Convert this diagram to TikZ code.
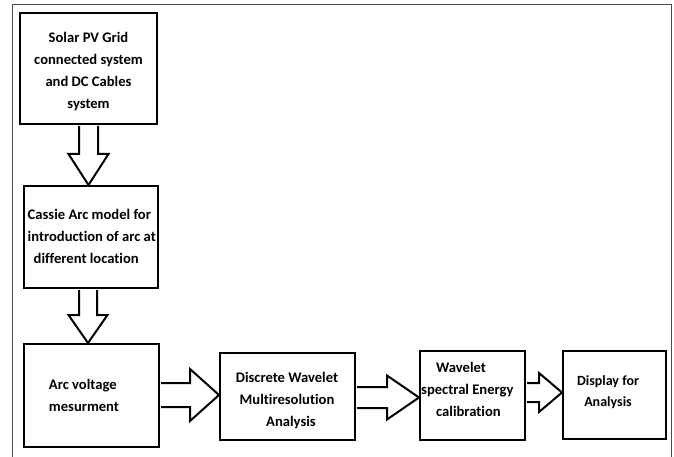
\documentclass[tikz,border=0pt]{standalone}
\usepackage{fontspec}
\setmainfont{Carlito}[Ligatures={NoCommon}]
\usetikzlibrary{calc}
\tikzset{
  box/.style={draw=black, line width=2pt, minimum width=#1, inner sep=0pt},
  txt/.style={font=\bfseries\fontsize{14.6}{22}\selectfont, inner sep=0pt, text=black},
  arr/.style={draw=black, line width=2pt, fill=white, line join=miter},
}
\begin{document}
\begin{tikzpicture}[x=1pt,y=-1pt]
\useasboundingbox (0,0) rectangle (674,457);
% frame
\draw[gray!60!black, line width=1pt] (12,457) -- (12,5) -- (671,5) -- (671,457);
% boxes
\node[box=137pt, minimum height=111pt] (b1) at (88.5,68.5) {};
\node[box=134pt, minimum height=102pt] (b2) at (91,237) {};
\node[box=135pt, minimum height=103pt] (b3) at (91.5,395.5) {};
\node[box=135pt, minimum height=87pt] (b4) at (287.5,396.5) {};
\node[box=105pt, minimum height=89pt] (b5) at (472.5,395.5) {};
\node[box=103pt, minimum height=88pt] (b6) at (614.5,395) {};
% texts
\node[txt, align=center] (t1) at (88.5,72) {Solar PV Grid\\connected system\\and DC Cables\\system};
\node[txt, align=left, anchor=west] (t2) at (27.5,236) {Cassie Arc model for\\introduction of arc at\\\hspace*{6pt}different location};
\node[txt, align=left] (t3) at (84,395) {Arc voltage\\mesurment};
\node[txt, align=center] (t4) at (287,401) {Discrete Wavelet\\Multiresolution\\\hspace*{8pt}Analysis};
\node[txt, align=left, anchor=west] (t5) at (421,389) {\hspace*{15pt}Wavelet\\spectral Energy\\\hspace*{15pt}calibration};
\node[txt, align=center, font=\bfseries\fontsize{14}{21}\selectfont] (t6) at (608,392.5) {Display for\\Analysis};
% vertical arrows
\path[arr] let \p1=($(b1.south)+(0pt,-1pt)$), \p2=(b2.north) in
  (\x1-9.5pt,\y1) -- (\x1-9.5pt,\y2+31pt) -- (\x1-20pt,\y2+31pt) -- (\x1,\y2) -- (\x1+20pt,\y2+31pt) -- (\x1+9.5pt,\y2+31pt) -- (\x1+9.5pt,\y1);
\path[arr] let \p1=($(b2.south)+(-3pt,-1pt)$), \p2=(b3.north) in
  (\x1-9pt,\y1) -- (\x1-9pt,\y2+28pt) -- (\x1-19.5pt,\y2+28pt) -- (\x1,\y2) -- (\x1+19.5pt,\y2+28pt) -- (\x1+9pt,\y2+28pt) -- (\x1+9pt,\y1);
% horizontal arrows
\path[arr] let \p1=($(b3.east)+(1pt,0.5pt)$), \p2=(b4.west) in
  (\x1,\y1+12pt) -- (\x2-29pt,\y1+12pt) -- (\x2-29pt,\y1+26pt) -- (\x2,\y1) -- (\x2-29pt,\y1-26pt) -- (\x2-29pt,\y1-12pt) -- (\x1,\y1-12pt);
\path[arr] let \p1=($(b4.east)+(1pt,-1pt)$), \p2=(b5.west) in
  (\x1,\y1+10.5pt) -- (\x2-32pt,\y1+10.5pt) -- (\x2-32pt,\y1+22pt) -- (\x2,\y1) -- (\x2-32pt,\y1-22pt) -- (\x2-32pt,\y1-10.5pt) -- (\x1,\y1-10.5pt);
\path[arr] let \p1=($(b5.east)+(1pt,3pt)$), \p2=(b6.west) in
  (\x1,\y1+9.5pt) -- (\x2-23pt,\y1+9.5pt) -- (\x2-23pt,\y1+19.5pt) -- (\x2,\y1) -- (\x2-23pt,\y1-19.5pt) -- (\x2-23pt,\y1-9.5pt) -- (\x1,\y1-9.5pt);
\end{tikzpicture}
\end{document}
